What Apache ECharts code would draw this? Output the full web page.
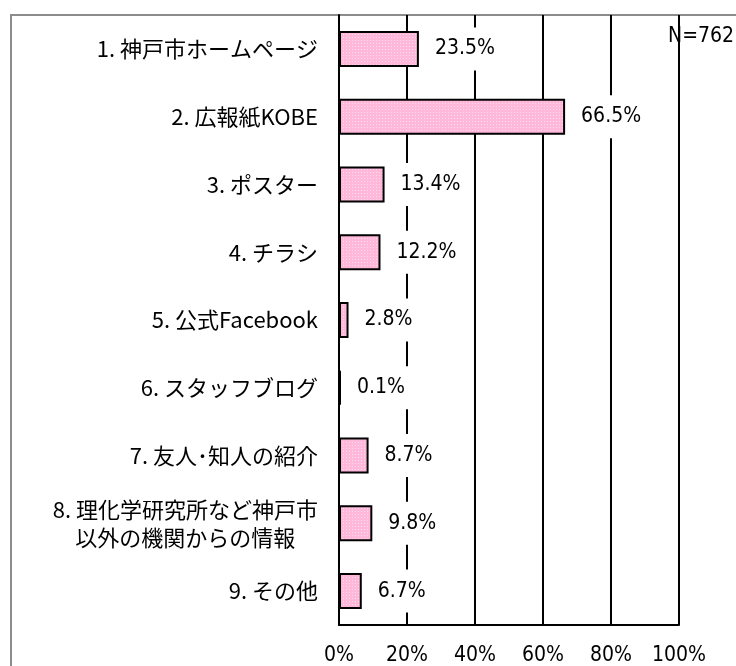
<!DOCTYPE html>
<html>
<head>
<meta charset="utf-8">
<script src="https://cdn.jsdelivr.net/npm/echarts@6/dist/echarts.min.js"></script>
<style>
  html, body { margin: 0; padding: 0; background: #fff; }
  #main { width: 736px; height: 666px; }
</style>
</head>
<body>
<div id="main"></div>
<script>
var categories = [
  '1. 神戸市ホームページ',
  '2. 広報紙KOBE',
  '3. ポスター',
  '4. チラシ',
  '5. 公式Facebook',
  '6. スタッフブログ',
  '7. 友人･知人の紹介',
  '8. 理化学研究所など神戸市\n以外の機関からの情報',
  '9. その他'
];
var values = [23.5, 66.5, 13.4, 12.2, 2.8, 0.1, 8.7, 9.8, 6.7];
var xTicks = [0, 20, 40, 60, 80, 100];
var sampleSize = 'N=762';

var numFont = "'Liberation Sans Narrow', 'DejaVu Sans Condensed', sans-serif";
var jpFont = "'Noto Sans CJK JP', sans-serif";

// pink dotted fill like the excel pattern
var tile = document.createElement('canvas');
tile.width = 3; tile.height = 3;
var tctx = tile.getContext('2d');
tctx.fillStyle = '#ffb8da';
tctx.fillRect(0, 0, 3, 3);
tctx.fillStyle = '#ffdcec';
tctx.fillRect(1, 1, 1, 1);

var chart = echarts.init(document.getElementById('main'));

var option = {
  backgroundColor: '#fff',
  animation: false,
  grid: { left: 339, right: 57, top: 15, bottom: 39, containLabel: false },
  graphic: [
    {
      type: 'rect',
      z: 0,
      shape: { x: 11, y: 15, width: 900, height: 900 },
      style: { fill: null, stroke: '#8c8c8c', lineWidth: 2 }
    },
    {
      type: 'text',
      z: 1,
      left: 668,
      top: 26,
      style: { text: sampleSize, font: '21px ' + numFont, fill: '#000' }
    }
  ],
  xAxis: {
    type: 'value',
    min: xTicks[0],
    max: xTicks[xTicks.length - 1],
    interval: 20,
    axisLine: { show: true, lineStyle: { color: '#000', width: 2 } },
    axisTick: { show: false },
    axisLabel: {
      margin: 20,
      color: '#000',
      fontSize: 21,
      fontFamily: numFont,
      formatter: '{value}%'
    },
    splitLine: { show: true, lineStyle: { color: '#000', width: 2 } }
  },
  yAxis: {
    type: 'category',
    inverse: true,
    data: categories,
    axisLine: { show: true, lineStyle: { color: '#000', width: 2 } },
    axisTick: { show: false },
    axisLabel: {
      margin: 21,
      color: '#000',
      fontSize: 22,
      fontFamily: jpFont,
      lineHeight: 28,
      formatter: function (v) {
        if (v.indexOf('\n') < 0) return v;
        return v.split('\n').map(function (s) { return '{c|' + s + '}'; }).join('\n');
      },
      rich: {
        c: { align: 'center', fontSize: 22, fontFamily: jpFont, color: '#000', lineHeight: 28 }
      }
    }
  },
  series: [{
    type: 'bar',
    data: values,
    barWidth: 36,
    barMinHeight: 2,
    itemStyle: {
      color: { image: tile, repeat: 'repeat' },
      borderColor: '#000',
      borderWidth: 2
    },
    label: {
      show: true,
      position: 'right',
      distance: 12,
      formatter: function (p) { return p.value.toFixed(1) + '%'; },
      color: '#000',
      fontSize: 21,
      fontFamily: numFont,
      lineHeight: 23,
      backgroundColor: '#fff',
      padding: [10, 4]
    }
  }]
};

chart.setOption(option);
</script>
</body>
</html>
